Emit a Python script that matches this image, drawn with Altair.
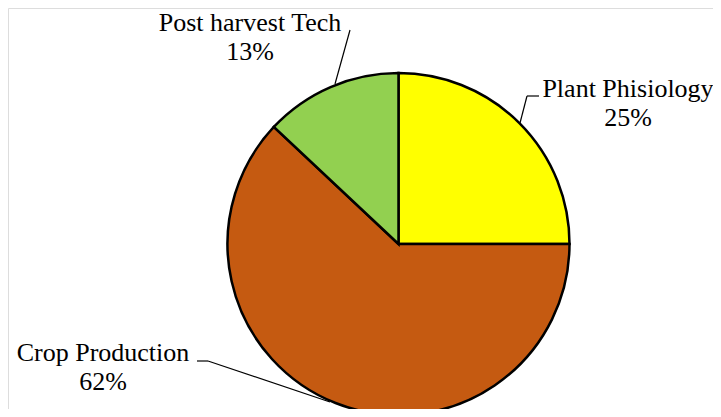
import altair as alt
import pandas as pd

categories = ["Plant Phisiology", "Crop Production", "Post harvest Tech"]
shares = [25, 62, 13]
pct_labels = ["25%", "62%", "13%"]
colors = ["#FFFF00", "#C55A11", "#92D050"]

df = pd.DataFrame({"cat": categories, "val": shares, "ord": [0, 1, 2]})

CX, CY, R = 390.5, 236, 171

pie = alt.Chart(df).mark_arc(stroke="black", strokeWidth=2.5, radius=R).encode(
    theta=alt.Theta("val:Q", stack=True),
    order=alt.Order("ord:Q"),
    color=alt.Color("cat:N", scale=alt.Scale(domain=categories, range=colors), legend=None),
    x=alt.value(CX),
    y=alt.value(CY),
)

# label annotations (pixel positions of the first line of each label)
label_pos = {
    "Plant Phisiology": (620, 81),
    "Crop Production": (95, 345),
    "Post harvest Tech": (242, 14.5),
}
lab_df = pd.DataFrame({
    "txt": [[c, p] for c, p in zip(categories, pct_labels)],
    "lx": [label_pos[c][0] for c in categories],
    "ly": [label_pos[c][1] for c in categories],
})
labels = alt.Chart(lab_df).mark_text(
    font="Times New Roman, Liberation Serif, serif", fontSize=26, lineHeight=29,
    align="center", baseline="middle", color="black"
).encode(
    x=alt.X("lx:Q", scale=None),
    y=alt.Y("ly:Q", scale=None),
    text="txt",
)

seg_df = pd.DataFrame({
    "x1": [342, 519, 519, 189, 200],
    "y1": [22, 88, 88, 353, 353],
    "x2": [327, 531, 512, 200, 322],
    "y2": [76, 88, 115, 353, 394],
})
leaders = alt.Chart(seg_df).mark_rule(color="black", strokeWidth=1.2).encode(
    x=alt.X("x1:Q", scale=None),
    y=alt.Y("y1:Q", scale=None),
    x2="x2:Q",
    y2="y2:Q",
)

chart = alt.layer(pie, leaders, labels).properties(
    width=705, height=401, autosize=alt.AutoSizeParams(type="none"), padding=0
).configure_view(stroke=None).configure(background="white")

chart.save("out.html", embed_options={"renderer": "svg", "actions": False})
